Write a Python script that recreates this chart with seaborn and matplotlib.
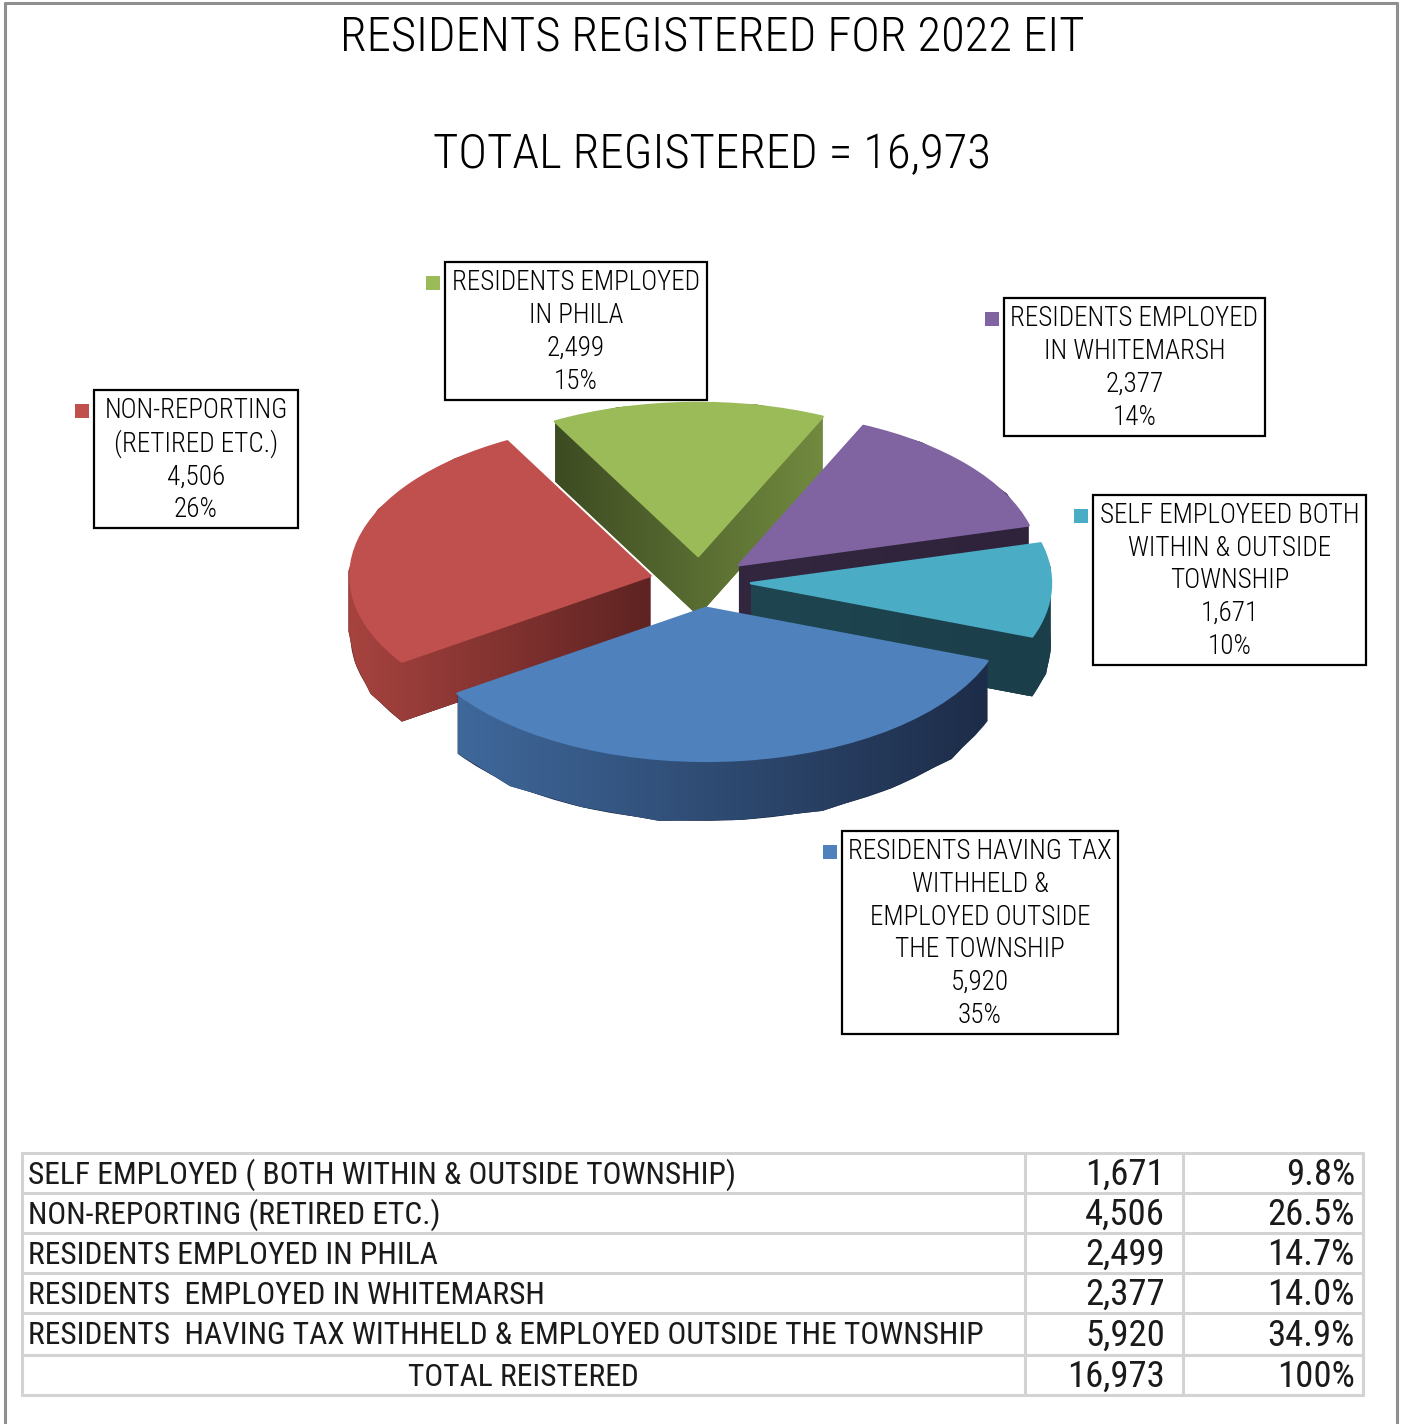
import matplotlib
matplotlib.use("Agg")
import numpy as np
import matplotlib.pyplot as plt
import seaborn as sns
from matplotlib import font_manager
from matplotlib.font_manager import FontProperties
from matplotlib.patches import Rectangle, Polygon
from matplotlib.lines import Line2D
from matplotlib.colors import LinearSegmentedColormap

sns.set_theme(style="white")

_wmap = {"ultralight": 200, "light": 300, "normal": 400, "regular": 400, "book": 400,
         "medium": 500, "roman": 400, "semibold": 600, "demibold": 600, "demi": 600,
         "bold": 700, "heavy": 800, "extra bold": 800, "black": 900, "thin": 100}


def wnum(w):
    try:
        return int(w)
    except (TypeError, ValueError):
        return _wmap.get(str(w).lower(), 400)


def is_condensed(f):
    s = str(f.stretch).lower()
    fn = f.fname.lower()
    nm = f.name.lower()
    if s.isdigit():
        if int(s) < 500:
            return True
    if "condensed" in s or "narrow" in s:
        return True
    return "condensed" in fn or "narrow" in fn or "condensed" in nm or "narrow" in nm


def find_condensed(target_weight, prefer):
    cands = []
    for f in font_manager.fontManager.ttflist:
        if f.style != "normal" or not is_condensed(f):
            continue
        semi = 1 if ("semicondensed" in f.fname.lower() or "semi" in str(f.stretch).lower()) else 0
        rank = len(prefer)
        for i, p in enumerate(prefer):
            if p.lower() in f.name.lower():
                rank = i
                break
        cands.append((abs(wnum(f.weight) - target_weight), semi, rank, f.fname))
    if not cands:
        return None
    cands.sort()
    return cands[0][3]


light_path = find_condensed(300, ["Noto Sans", "Roboto", "Open Sans", "DejaVu", "Liberation"])
regular_path = find_condensed(400, ["Liberation", "Noto Sans", "Roboto", "DejaVu", "Open Sans"])


def lfont(size):
    if light_path:
        return FontProperties(fname=light_path, size=size)
    return FontProperties(family=["Open Sans Condensed", "DejaVu Sans"], size=size)


def tfont(size):
    if regular_path:
        return FontProperties(fname=regular_path, size=size)
    return FontProperties(family=["Liberation Sans", "DejaVu Sans"], size=size)

# ---------------- data ----------------
title_text = "RESIDENTS REGISTERED FOR 2022 EIT"
subtitle_text = "TOTAL REGISTERED = 16,973"

pie_labels = [
    "RESIDENTS EMPLOYED\nIN PHILA",
    "RESIDENTS EMPLOYED\nIN WHITEMARSH",
    "SELF EMPLOYEED BOTH\nWITHIN & OUTSIDE\nTOWNSHIP",
    "RESIDENTS HAVING TAX\nWITHHELD &\nEMPLOYED OUTSIDE\nTHE TOWNSHIP",
    "NON-REPORTING\n(RETIRED ETC.)",
]
pie_values = [2499, 2377, 1671, 5920, 4506]
pie_pcts = ["15%", "14%", "10%", "35%", "26%"]
top_colors = ["#9BBB59", "#8064A2", "#4BACC6", "#4F81BD", "#C0504D"]
side_left = ["#3D4B22", "#33263F", "#1E4550", "#3F689B", "#A7433F"]
side_right = ["#718A3F", "#2F233B", "#1B3F4A", "#1D2C48", "#5E2322"]

table_labels = [
    "SELF EMPLOYED ( BOTH WITHIN & OUTSIDE TOWNSHIP)",
    "NON-REPORTING (RETIRED ETC.)",
    "RESIDENTS EMPLOYED IN PHILA",
    "RESIDENTS  EMPLOYED IN WHITEMARSH",
    "RESIDENTS  HAVING TAX WITHHELD & EMPLOYED OUTSIDE THE TOWNSHIP",
]
table_counts = [1671, 4506, 2499, 2377, 5920]
table_pcts = ["9.8%", "26.5%", "14.7%", "14.0%", "34.9%"]
total_label = "TOTAL REISTERED"
total_count = 16973
total_pct = "100%"

# ---------------- figure ----------------
W, H = 1404, 1424
fig = plt.figure(figsize=(W / 100, H / 100), dpi=100)
fig.patch.set_facecolor("white")


def fx(px):
    return px / W


def fy(py):
    return 1 - py / H

# outer frame
for (x0, y0, x1, y1) in [(5, 3, 5, H), (5, 3, 1397, 3), (1397, 3, 1397, H)]:
    fig.add_artist(Line2D([fx(x0), fx(x1)], [fy(y0), fy(y1)], color="#8f8f8f", lw=2.2,
                          transform=fig.transFigure))

title_size = 35 if light_path else 36
fig.text(fx(712), fy(37), title_text, ha="center", va="center", fontproperties=lfont(title_size), color="black")
fig.text(fx(712), fy(155), subtitle_text, ha="center", va="center", fontproperties=lfont(title_size), color="black")

# ---------------- pseudo 3D pie ----------------
cx, cy, rx, squash = 700, 582, 300, 0.51
ry = rx * squash
ax_l, ax_r, ax_t, ax_b = 300, 1100, 330, 880
ax = fig.add_axes([fx(ax_l), fy(ax_b), (ax_r - ax_l) / W, (ax_b - ax_t) / H])
start = 118.5
explode = [0.17] * len(pie_values)
depth = 60 / ry
draw_order = [0, 1, 4, 2, 3]  # back to front


def hull(points):
    pts = sorted(set(map(tuple, np.round(points, 6))))
    def cross(o, a, b):
        return (a[0] - o[0]) * (b[1] - o[1]) - (a[1] - o[1]) * (b[0] - o[0])
    lower, upper = [], []
    for p in pts:
        while len(lower) >= 2 and cross(lower[-2], lower[-1], p) <= 0:
            lower.pop()
        lower.append(p)
    for p in reversed(pts):
        while len(upper) >= 2 and cross(upper[-2], upper[-1], p) <= 0:
            upper.pop()
        upper.append(p)
    return np.array(lower[:-1] + upper[:-1])


def flat(path):
    return np.vstack(path.to_polygons(closed_only=False))


for idx in draw_order:
    cols = ["none"] * len(pie_values)
    cols[idx] = side_right[idx]
    bottom, _ = ax.pie(pie_values, explode=explode, colors=cols, startangle=start,
                       counterclock=False, center=(0, -depth), radius=1,
                       wedgeprops=dict(linewidth=0))
    cols = ["none"] * len(pie_values)
    cols[idx] = top_colors[idx]
    top, _ = ax.pie(pie_values, explode=explode, colors=cols, startangle=start,
                    counterclock=False, center=(0, 0), radius=1,
                    wedgeprops=dict(linewidth=0))
    # side surface: region swept between the bottom and top faces
    pts = np.vstack([flat(bottom[idx].get_path()), flat(top[idx].get_path())])
    hv = hull(pts)
    side_poly = Polygon(hv, closed=True, facecolor=side_right[idx], edgecolor="none",
                        transform=ax.transData)
    ax.add_patch(side_poly)
    cmap = LinearSegmentedColormap.from_list("s", [side_left[idx], side_right[idx]])
    grad = np.linspace(0, 1, 256).reshape(1, -1)
    im = ax.imshow(grad, cmap=cmap, aspect="auto", interpolation="bicubic",
                   extent=(hv[:, 0].min(), hv[:, 0].max(), hv[:, 1].min(), hv[:, 1].max()),
                   zorder=top[idx].get_zorder())
    im.set_clip_path(side_poly)
    top[idx].remove()
    top[idx].set_edgecolor(top_colors[idx])
    top[idx].set_linewidth(1.8)
    top[idx].set_joinstyle("round")
    ax.add_patch(top[idx])

ax.set_aspect("auto")
ax.set_xlim((ax_l - cx) / rx, (ax_r - cx) / rx)
ax.set_ylim((cy - ax_b) / ry, (cy - ax_t) / ry)
ax.axis("off")

# ---------------- data label boxes ----------------
boxes = [  # x0, y0, x1, y1 in px
    (445, 262, 707, 400),
    (1004, 298, 1265, 436),
    (1093, 495, 1366, 665),
    (842, 831, 1118, 1034),
    (94, 390, 298, 528),
]
label_size = 19.5 if light_path else 20
for i, (x0, y0, x1, y1) in enumerate(boxes):
    fig.add_artist(Rectangle((fx(x0), fy(y1)), fx(x1) - fx(x0), fy(y0) - fy(y1),
                             transform=fig.transFigure, fill=False, edgecolor="black", lw=1.6))
    fig.add_artist(Rectangle((fx(x0 - 19), fy(y0 + 28)), fx(14), 14 / H,
                             transform=fig.transFigure, facecolor=top_colors[i], edgecolor="none"))
    txt = f"{pie_labels[i]}\n{pie_values[i]:,}\n{pie_pcts[i]}"
    fig.text(fx((x0 + x1) / 2), fy((y0 + y1) / 2 + 1), txt, ha="center", va="center",
             fontproperties=lfont(label_size), linespacing=1.27, color="black")

# ---------------- table ----------------
row_y = [1153, 1193, 1233, 1273, 1313, 1355, 1395]
col_x = [22, 1025, 1183, 1363]
grid_col = "#d3d3d3"
for y in row_y:
    fig.add_artist(Line2D([fx(col_x[0]), fx(col_x[-1])], [fy(y), fy(y)], color=grid_col, lw=2.2,
                          transform=fig.transFigure))
for x in col_x:
    fig.add_artist(Line2D([fx(x), fx(x)], [fy(row_y[0]), fy(row_y[-1])], color=grid_col, lw=2.2,
                          transform=fig.transFigure))

lab_size = 22.7 if regular_path else 18.5
num_size = 26.5 if regular_path else 23
all_labels = table_labels + [total_label]
all_counts = table_counts + [total_count]
all_pcts = table_pcts + [total_pct]
for r in range(len(all_labels)):
    yc = (row_y[r] + row_y[r + 1]) / 2 + 2
    if r < len(table_labels):
        fig.text(fx(28), fy(yc), all_labels[r], ha="left", va="center",
                 fontproperties=tfont(lab_size), color="#1a1a1a")
    else:
        fig.text(fx((col_x[0] + col_x[1]) / 2), fy(yc), all_labels[r], ha="center", va="center",
                 fontproperties=tfont(lab_size), color="#1a1a1a")
    fig.text(fx(col_x[2] - 18), fy(yc), f"{all_counts[r]:,}", ha="right", va="center",
             fontproperties=tfont(num_size), color="#1a1a1a")
    fig.text(fx(col_x[3] - 8), fy(yc), all_pcts[r], ha="right", va="center",
             fontproperties=tfont(num_size), color="#1a1a1a")

fig.savefig("out.png", dpi=100, facecolor="white")
